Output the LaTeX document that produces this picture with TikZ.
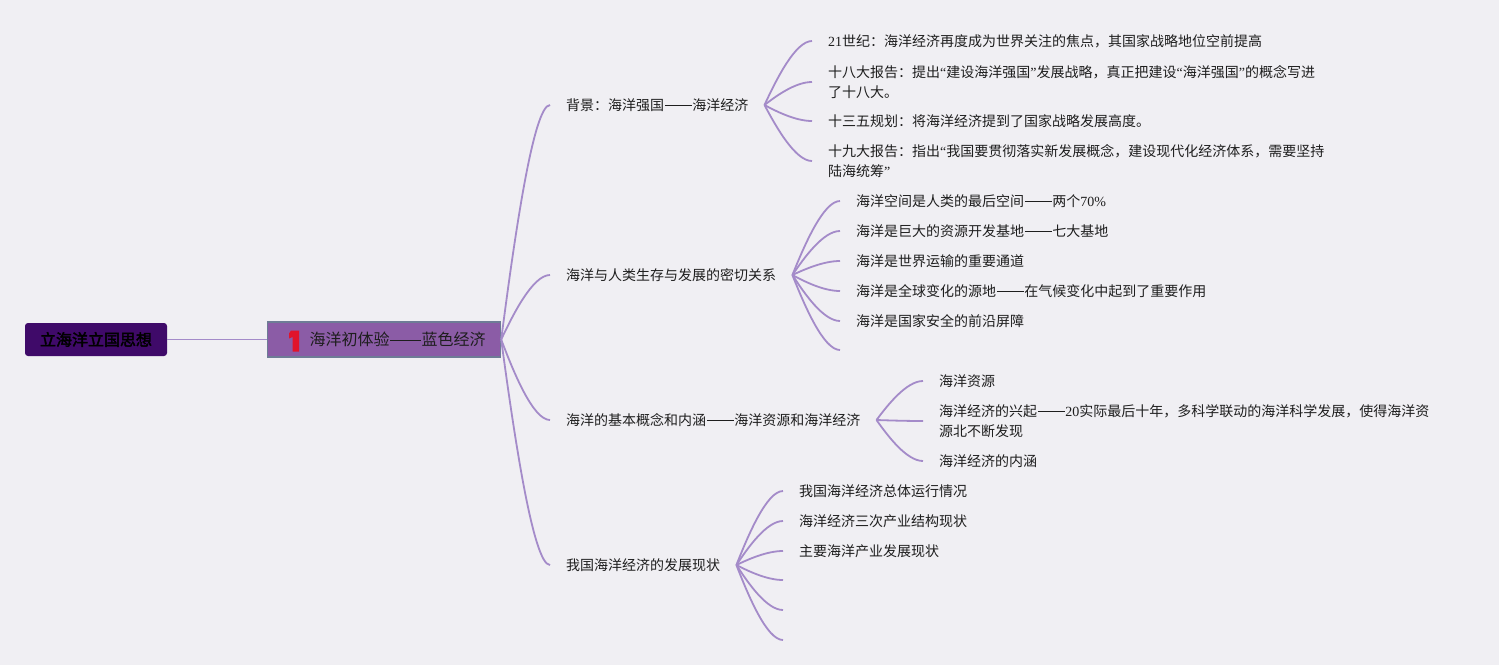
\documentclass[tikz,border=0pt]{standalone}
\usepackage{fontspec}
\setmainfont{Noto Sans CJK SC}
\newfontfamily\cjkbold[FakeBold=2.5]{Noto Sans CJK SC}
\newfontfamily\lat{Liberation Serif}
\newcommand\fwdash{\hspace{0.6pt}\rule[0.3em]{1.92em}{0.065em}\hspace{0.6pt}}
\usetikzlibrary{calc}
\definecolor{bg}{HTML}{F0EFF3}
\definecolor{linec}{HTML}{A48BC9}
\definecolor{rootc}{HTML}{3F0A69}
\definecolor{mainc}{HTML}{8B5CA6}
\definecolor{mainb}{HTML}{6E7C96}
\definecolor{txt}{HTML}{1E1E1E}
\definecolor{numred}{HTML}{E0142C}
\begin{document}
\begin{tikzpicture}[x=1pt,y=-1pt,
  every node/.style={font=\fontsize{14}{20}\selectfont, text=txt},
  rootbox/.style={fill=rootc, rounded corners=3pt, minimum width=142pt, minimum height=33pt, inner sep=0pt, font=\fontsize{16}{20}\selectfont\cjkbold, text=black},
  mainbox/.style={fill=mainc, draw=mainb, line width=1.2pt, text width=233pt, minimum height=35pt, inner sep=0pt, align=left, font=\fontsize{16}{20}\selectfont},
  branch/.style={anchor=west, inner xsep=16pt, inner ysep=2pt},
  leaf/.style={anchor=west, inner xsep=16pt, inner ysep=2pt, align=left},
  conn/.style={draw=linec, line width=1.8pt},
  fan/.style={to path={let \p1=(\tikztostart), \p2=(\tikztotarget) in
      .. controls ({\x1+0.25*(\x2-\x1)}, {\y1+0.4*(\y2-\y1)}) and ({\x2-0.35*(\x2-\x1)}, {\y2}) .. (\tikztotarget) \tikztonodes}}
]
\fill[bg] (0,0) rectangle (1499,665);
\useasboundingbox (0,0) rectangle (1499,665);

% root and main
\node[rootbox] (root) at (96,339.5) {立海洋立国思想};
\node[mainbox, anchor=west] (main) at (267,339.5) {\hspace*{42pt}海洋初体验\fwdash 蓝色经济};
\draw[conn] (root.east) -- (main.west);
% priority marker "1"
\fill[numred] (291,330.5) -- (299,330.5) -- (299,351.5) -- (292.5,351.5) -- (292.5,337) -- (289,338.5) -- (289,333.5) -- cycle;

% branches
\node[branch] (b1) at (550,105) {背景：海洋强国\fwdash 海洋经济};
\node[branch] (b2) at (550,275) {海洋与人类生存与发展的密切关系};
\node[branch] (b3) at (550,420) {海洋的基本概念和内涵\fwdash 海洋资源和海洋经济};
\node[branch] (b4) at (550,565) {我国海洋经济的发展现状};

% leaves of b1
\node[leaf] (l11) at (812,41) {{\lat 21}世纪：海洋经济再度成为世界关注的焦点，其国家战略地位空前提高};
\node[leaf] (l12) at (812,82) {十八大报告：提出{\lat “}建设海洋强国{\lat ”}发展战略，真正把建设{\lat “}海洋强国{\lat ”}的概念写进\\了十八大。};
\node[leaf] (l13) at (812,121) {十三五规划：将海洋经济提到了国家战略发展高度。};
\node[leaf] (l14) at (812,161) {十九大报告：指出{\lat “}我国要贯彻落实新发展概念，建设现代化经济体系，需要坚持\\陆海统筹{\lat ”}};

% leaves of b2
\node[leaf] (l21) at (840,201) {海洋空间是人类的最后空间\fwdash 两个{\lat 70\%}};
\node[leaf] (l22) at (840,231) {海洋是巨大的资源开发基地\fwdash 七大基地};
\node[leaf] (l23) at (840,261) {海洋是世界运输的重要通道};
\node[leaf] (l24) at (840,291) {海洋是全球变化的源地\fwdash 在气候变化中起到了重要作用};
\node[leaf] (l25) at (840,321) {海洋是国家安全的前沿屏障};
\node[leaf] (l26) at (840,350) {};

% leaves of b3
\node[leaf] (l31) at (923,381) {海洋资源};
\node[leaf] (l32) at (923,421) {海洋经济的兴起\fwdash{\lat 20}实际最后十年，多科学联动的海洋科学发展，使得海洋资\\源北不断发现};
\node[leaf] (l33) at (923,461) {海洋经济的内涵};

% leaves of b4
\node[leaf] (l41) at (783,491) {我国海洋经济总体运行情况};
\node[leaf] (l42) at (783,521) {海洋经济三次产业结构现状};
\node[leaf] (l43) at (783,551) {主要海洋产业发展现状};
\node[leaf] (l44) at (783,580) {};
\node[leaf] (l45) at (783,610) {};
\node[leaf] (l46) at (783,640) {};

% connectors
\foreach \b in {b1,b2,b3,b4}
  \draw[conn] (main.east) to[fan] (\b.west);
\foreach \l in {l11,l12,l13,l14}
  \draw[conn] (b1.east) to[fan] (\l.west);
\foreach \l in {l21,l22,l23,l24,l25,l26}
  \draw[conn] (b2.east) to[fan] (\l.west);
\foreach \l in {l31,l32,l33}
  \draw[conn] (b3.east) to[fan] (\l.west);
\foreach \l in {l41,l42,l43,l44,l45,l46}
  \draw[conn] (b4.east) to[fan] (\l.west);
\end{tikzpicture}
\end{document}
